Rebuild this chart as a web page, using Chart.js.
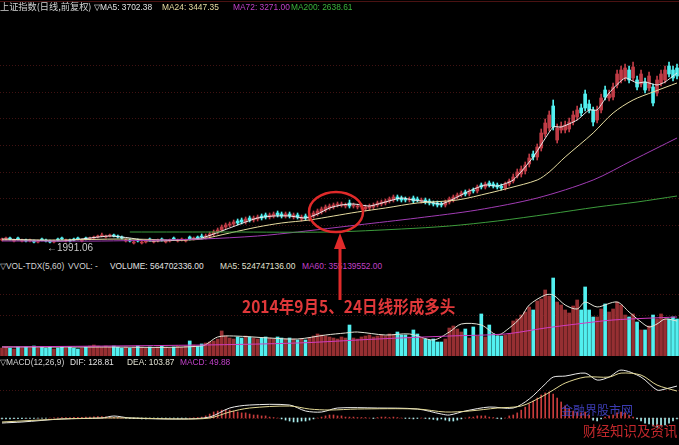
<!DOCTYPE html>
<html>
<head>
<meta charset="utf-8">
<script src="https://cdn.jsdelivr.net/npm/chart.js@4.4.1/dist/chart.umd.min.js"></script>
<style>
html, body { margin: 0; padding: 0; background: #000; width: 679px; height: 445px; overflow: hidden; }
.wrap { position: relative; width: 679px; height: 445px; background: #000; }
canvas { position: absolute; left: 0; }
.t { position: absolute; white-space: nowrap; font-family: "Liberation Sans", Arial, sans-serif; font-size: 8.4px; line-height: 10px; }
.cjk { font-family: "Noto Sans CJK SC", sans-serif; }
.rule { position: absolute; left: 0; width: 679px; height: 1px; background: #4a1212; }
svg { position: absolute; left: 0; top: 0; }
</style>
</head>
<body>
<div class="wrap">
  <div class="rule" style="top:1px"></div>
  <canvas id="priceChart" width="679" height="245" style="top:12px"></canvas>
  <canvas id="volChart" width="679" height="84" style="top:272px"></canvas>
  <canvas id="macdChart" width="679" height="78" style="top:366px"></canvas>

  <!-- panel headers -->
  <span class="t cjk" style="left:0;top:1px;font-size:9.2px;color:#d2d2d2">上证指数(日线,前复权)</span>
  <span class="t" style="left:94px;top:2px;color:#e2e2e2">▽MA5: 3702.38</span>
  <span class="t" style="left:162px;top:2px;color:#e6dca2">MA24: 3447.35</span>
  <span class="t" style="left:233px;top:2px;color:#c040c8">MA72: 3271.00</span>
  <span class="t" style="left:291px;top:2px;color:#3cb43c">MA200: 2638.61</span>

  <span class="t" style="left:0;top:261px;color:#d2d2d2">▽VOL-TDX(5,60)</span>
  <span class="t" style="left:68px;top:261px;color:#d2d2d2">VVOL: -</span>
  <span class="t" style="left:110px;top:261px;color:#e2e2e2">VOLUME: 564702336.00</span>
  <span class="t" style="left:220px;top:261px;color:#e2e2d2">MA5: 524747136.00</span>
  <span class="t" style="left:302px;top:261px;color:#c040c8">MA60: 355139552.00</span>

  <span class="t" style="left:0;top:357px;color:#d2d2d2">▽MACD(12,26,9)</span>
  <span class="t" style="left:70px;top:357px;color:#e2e2e2">DIF: 128.81</span>
  <span class="t" style="left:127px;top:357px;color:#e2e2d2">DEA: 103.87</span>
  <span class="t" style="left:180px;top:357px;color:#c040c8">MACD: 49.88</span>

  <span class="t" style="left:47px;top:243px;font-size:10px;color:#c8c8c8">←1991.06</span>

  <!-- annotation -->
  <svg width="679" height="445">
    <ellipse cx="336" cy="212" rx="27" ry="20" fill="none" stroke="#e02a2a" stroke-width="2.5"/>
    <rect x="338.5" y="246" width="3" height="54" fill="#e02a2a"/>
    <polygon points="340,233 334,249 346,249" fill="#e02a2a"/>
  </svg>
  <span class="t cjk" style="left:242px;top:296px;font-size:17px;line-height:20px;font-weight:bold;color:#e0383a;transform:scaleX(0.915);transform-origin:0 0">2014年9月5、24日线形成多头</span>

  <!-- watermarks -->
  <span class="t cjk" style="left:561px;top:403px;font-size:12px;line-height:14px;color:rgba(70,70,210,0.85)">金融界股市网</span>
  <span class="t cjk" style="left:583px;top:422px;font-size:13.5px;line-height:16px;color:#c4282c">财经知识及资讯</span>
</div>

<script>
// ---- candles (price), index 0..169 ----
const opens = [
  1900,1910,1920,1890,1920,1890,1900,1890,1890,1880,
  1910,1900,1890,1880,1910,1920,1890,1900,1910,1920,
  1890,1920,1910,1920,1930,1940,1930,1940,1950,1940,
  1930,1890,1900,1870,1900,1870,1880,1910,1880,1890,
  1910,1880,1890,1920,1890,1900,1890,1930,1910,1930,
  1940,1930,1940,1960,1980,2000,2030,2050,2060,2090,
  2100,2080,2120,2100,2110,2140,2150,2130,2140,2170,
  2160,2140,2160,2130,2150,2110,2140,2110,2140,2160,
  2180,2200,2220,2230,2250,2250,2240,2270,2240,2230,
  2230,2210,2220,2230,2250,2260,2270,2290,2300,2330,
  2320,2310,2300,2320,2310,2290,2300,2290,2270,2270,
  2260,2250,2280,2300,2330,2350,2380,2360,2400,2390,
  2450,2430,2470,2460,2450,2440,2420,2460,2490,2540,
  2560,2590,2660,2760,2730,2820,2960,3020,3240,2900,
  3000,3000,3010,3080,3130,3220,3360,3260,3200,3100,
  3200,3400,3320,3330,3450,3500,3520,3600,3520,3500,
  3460,3480,3420,3430,3370,3470,3500,3640,3600,3620
];
const closes = [
  1910,1920,1910,1900,1910,1900,1890,1900,1880,1890,
  1900,1890,1880,1890,1900,1910,1900,1890,1900,1910,
  1900,1910,1920,1930,1940,1950,1940,1950,1940,1930,
  1920,1900,1890,1880,1890,1880,1890,1900,1890,1900,
  1900,1890,1900,1910,1900,1910,1900,1910,1920,1920,
  1930,1940,1960,1980,2000,2030,2050,2060,2080,2070,
  2080,2110,2100,2120,2130,2120,2130,2150,2160,2150,
  2140,2160,2140,2150,2130,2130,2120,2140,2170,2190,
  2210,2230,2240,2250,2260,2260,2250,2240,2250,2240,
  2240,2230,2240,2250,2270,2280,2290,2310,2330,2310,
  2300,2300,2310,2290,2300,2300,2280,2270,2260,2250,
  2250,2280,2310,2330,2350,2370,2360,2390,2390,2430,
  2430,2460,2450,2440,2430,2420,2460,2490,2530,2580,
  2610,2650,2720,2730,2830,2970,3070,3150,3030,3020,
  3040,3050,3080,3150,3200,3170,3220,3200,3080,3200,
  3320,3330,3360,3430,3560,3600,3620,3500,3630,3430,
  3560,3400,3540,3270,3500,3560,3600,3560,3520,3540
];
const highs = [
  1920,1930,1930,1910,1930,1910,1910,1910,1900,1900,
  1920,1910,1900,1900,1920,1930,1910,1910,1920,1930,
  1910,1930,1930,1940,1950,1970,1950,1960,1960,1950,
  1940,1910,1910,1890,1910,1890,1900,1920,1900,1910,
  1920,1900,1910,1930,1910,1920,1910,1940,1930,1940,
  1960,1960,1980,2000,2020,2050,2070,2080,2100,2110,
  2120,2130,2140,2140,2150,2160,2170,2170,2180,2190,
  2180,2180,2180,2170,2170,2150,2160,2160,2190,2210,
  2230,2250,2260,2270,2280,2280,2270,2300,2270,2260,
  2260,2250,2260,2270,2290,2300,2310,2330,2350,2350,
  2340,2330,2330,2340,2330,2320,2320,2310,2290,2290,
  2280,2300,2330,2350,2370,2390,2400,2410,2420,2450,
  2470,2480,2490,2480,2470,2460,2480,2510,2560,2610,
  2640,2680,2760,2790,2860,3010,3110,3190,3300,3060,
  3080,3090,3120,3190,3240,3260,3400,3300,3230,3240,
  3360,3440,3400,3470,3600,3640,3660,3640,3680,3540,
  3600,3520,3580,3460,3540,3600,3640,3680,3640,3660
];
const lows = [
  1890,1900,1900,1880,1900,1880,1880,1880,1870,1870,
  1890,1880,1870,1870,1890,1900,1880,1880,1890,1900,
  1880,1900,1900,1910,1920,1930,1920,1930,1930,1920,
  1910,1880,1880,1860,1880,1860,1870,1890,1870,1880,
  1890,1870,1880,1900,1880,1890,1880,1900,1900,1910,
  1910,1910,1920,1940,1960,1980,2010,2030,2040,2050,
  2060,2060,2080,2080,2090,2100,2110,2110,2120,2130,
  2120,2120,2120,2110,2110,2090,2100,2090,2120,2140,
  2160,2180,2200,2210,2230,2230,2220,2220,2220,2210,
  2210,2190,2200,2210,2230,2240,2250,2270,2280,2290,
  2280,2280,2280,2270,2280,2270,2260,2250,2240,2230,
  2230,2230,2260,2280,2310,2330,2340,2340,2370,2370,
  2410,2410,2430,2420,2410,2400,2400,2440,2470,2520,
  2530,2560,2630,2700,2700,2790,2930,2990,3000,2870,
  2970,2970,2980,3050,3100,3140,3190,3170,3040,3070,
  3170,3300,3290,3300,3420,3470,3490,3470,3490,3400,
  3430,3370,3390,3240,3340,3440,3470,3530,3490,3510
];

// ---- moving averages on price (node index / value) ----
const ma5Idx = [0,7,15,22,27,32,37,45,50,53,57,61,64,68,72,76,79,82,85,88,92,96,100,103,107,110,113,117,121,124,128,133,138,140,144,147,149,152,156,159,161,164,166,169];
const ma5Val = [1910,1900,1890,1920,1940,1920,1890,1900,1920,1960,2020,2080,2120,2140,2140,2120,2160,2220,2250,2260,2240,2280,2320,2300,2280,2260,2310,2390,2450,2440,2500,2730,3030,3030,3100,3200,3200,3370,3520,3470,3480,3450,3480,3570];
const ma24Idx = [0,15,30,45,50,57,64,70,77,83,89,96,104,114,122,127,134,137,141,148,153,158,163,169];
const ma24Val = [1900,1900,1910,1900,1910,1970,2030,2070,2100,2140,2180,2220,2270,2300,2370,2420,2500,2580,2730,2970,3170,3300,3380,3470];
const ma72Idx = [0,25,50,64,74,89,104,119,134,148,158,169];
const ma72Val = [1890,1890,1910,1940,1980,2050,2120,2200,2320,2500,2700,2920];
const ma200Idx = [32,57,82,100,112,124,137,149,159,169];
const ma200Val = [1980,1980,1980,2010,2040,2090,2160,2230,2280,2340];
const priceGrid = [3650,3380,3120,2850,2580,2320,2050];

// ---- volume (x 1e7 shares) ----
const volume = [
  12.2,13.8,12.2,10.7,13.8,12.2,13.8,12.2,15.3,12.2,
  13.8,12.2,13.8,10.7,12.2,13.8,12.2,13.8,12.2,10.7,
  12.2,13.8,15.3,16.8,15.3,13.8,15.3,13.8,15.3,13.8,
  12.2,13.8,12.2,13.8,15.3,13.8,12.2,13.8,12.2,13.8,
  15.3,13.8,12.2,13.8,15.3,13.8,15.3,23.0,16.8,15.3,
  18.4,19.9,21.4,23.0,26.0,38.3,30.6,27.5,26.0,29.1,
  27.5,30.6,29.1,27.5,26.0,27.5,29.1,27.5,26.0,29.1,
  27.5,26.0,27.5,26.0,24.5,26.0,24.5,27.5,30.6,33.7,
  32.1,30.6,29.1,27.5,26.0,29.1,27.5,47.4,27.5,26.0,
  29.1,30.6,32.1,29.1,30.6,32.1,30.6,33.7,32.1,36.7,
  32.1,32.1,29.1,39.8,33.7,27.5,26.0,24.5,26.0,21.4,
  21.4,26.0,42.8,45.9,41.3,36.7,41.3,27.5,44.4,30.6,
  64.3,29.1,47.4,33.7,30.6,30.6,32.1,33.7,53.6,56.6,
  62.7,67.3,75.0,70.4,84.2,87.2,101.0,91.8,119.3,82.6,
  78.0,70.4,65.8,76.5,85.7,70.4,105.6,70.4,59.7,59.7,
  71.9,79.6,67.3,71.9,82.6,78.0,62.7,59.7,64.3,52.0,
  39.8,39.8,45.9,62.7,56.6,64.3,56.6,56.6,59.7,56.6
];
const volMa5Idx = [0,25,50,54,58,67,74,81,86,89,96,102,108,112,115,120,124,127,130,132,136,138,141,144,146,149,154,157,160,162,164,166,169];
const volMa5Val = [13.8,13.8,15.3,29.1,30.6,27.5,26.0,32.1,35.2,36.7,32.1,33.7,24.5,36.7,49.0,47.4,32.1,42.8,59.7,78.0,93.3,93.3,78.0,71.9,82.6,75.0,82.6,67.3,52.0,44.4,49.0,56.6,53.5];
const volMa60Idx = [0,50,74,94,112,126,136,144,153,169];
const volMa60Val = [13.8,16.8,19.9,26.0,30.6,33.7,42.8,49.0,55.1,59.7];
const volGrid = [94.9,62.7];

// ---- MACD ----
const macdHist = [
  -4,-4,-4,-3,-3,-3,-2,-2,-2,-1,
  -1,-1,0,1,1,2,2,2,3,3,
  3,4,4,5,6,6,5,4,3,2,
  1,-1,-2,-3,-3,-4,-4,-3,-3,-2,
  -2,-2,-1,-1,-2,-2,-1,0,1,2,
  4,9,17,26,30,34,34,34,30,26,
  22,22,17,13,13,9,9,4,2,0,
  -4,-9,-13,-17,-17,-13,-13,-9,-4,0,
  4,9,13,13,9,9,4,4,4,2,
  2,2,0,-2,2,4,4,2,4,2,
  0,-2,-2,-4,-2,0,-2,-4,-6,-9,
  -4,-9,-13,-13,-9,-4,0,4,4,9,
  9,9,4,2,-2,-4,0,9,13,22,
  34,47,60,73,86,99,108,112,103,86,
  69,52,39,30,26,22,26,13,-9,-13,
  -4,4,9,13,22,26,22,13,4,-4,
  -13,-22,-26,-34,-39,-34,-30,-22,-13,-4
];
const difIdx = [0,5,15,25,28,32,45,52,57,62,72,76,80,84,94,104,110,112,116,122,128,132,136,138,141,146,149,152,155,160,164,166,169];
const difVal = [-21.5,-17.2,-4.3,0,8.6,0,-4.3,4.3,43.0,55.9,55.9,30.1,25.8,43.0,43.0,38.7,17.2,12.9,30.1,47.3,43.0,81.7,146.2,176.3,180.6,193.5,163.4,176.3,206.4,176.3,120.4,124.7,137.6];
const deaIdx = [0,15,25,32,45,52,57,62,72,77,82,89,104,111,117,124,130,135,138,141,146,152,155,160,164,169];
const deaVal = [-17.2,-4.3,0,0,-4.3,0,25.8,43.0,51.6,38.7,34.4,38.7,38.7,25.8,30.1,43.0,51.6,90.3,120.4,150.5,176.3,176.3,193.5,184.9,141.9,116.1];
const macdGrid = [120,0];

// ---- helpers ----
const UP = '#c03c46', DOWN = '#52f0f0';
const isUp = opens.map((o, i) => closes[i] >= o);

const levelLines = {
    id: 'levelLines',
    beforeDatasetsDraw(chart, args, opts) {
        const { ctx, chartArea, scales } = chart;
        ctx.save();
        ctx.strokeStyle = opts.color;
        ctx.lineWidth = 1;
        ctx.setLineDash([1, 2]);
        (opts.levels || []).forEach(v => {
            const py = Math.round(scales.y.getPixelForValue(v)) + 0.5;
            ctx.beginPath();
            ctx.moveTo(chartArea.left, py);
            ctx.lineTo(chartArea.right, py);
            ctx.stroke();
        });
        ctx.restore();
    }
};

function baseOptions(yMin, yMax, levels) {
    return {
        responsive: false,
        animation: false,
        devicePixelRatio: 1,
        layout: { padding: 0 },
        plugins: {
            legend: { display: false },
            tooltip: { enabled: false },
            levelLines: { levels: levels, color: '#401212' }
        },
        scales: {
            x: { type: 'linear', min: -0.5, max: 169.5, offset: false, display: false },
            y: { min: yMin, max: yMax, display: false }
        }
    };
}

function lineSet(idx, vals, color, tension) {
    return {
        type: 'line',
        data: idx.map((x, k) => ({ x: x, y: vals[k] })),
        borderColor: color,
        borderWidth: 1,
        pointRadius: 0,
        tension: tension,
        order: 0
    };
}

// ---- price panel ----
new Chart(document.getElementById('priceChart'), {
    type: 'bar',
    data: {
        datasets: [
            {
                data: highs.map((h, i) => ({ x: i, y: [lows[i], h] })),
                backgroundColor: isUp.map(u => u ? UP : DOWN),
                barThickness: 1,
                grouped: false,
                minBarLength: 1,
                order: 2
            },
            {
                data: opens.map((o, i) => ({ x: i, y: [o, closes[i]] })),
                backgroundColor: isUp.map(u => u ? UP : DOWN),
                barThickness: 3,
                grouped: false,
                minBarLength: 1,
                order: 1
            },
            lineSet(ma200Idx, ma200Val, '#3c9c3c', 0.3),
            lineSet(ma72Idx, ma72Val, '#a13cb4', 0.3),
            lineSet(ma24Idx, ma24Val, '#e6dca0', 0.3),
            lineSet(ma5Idx, ma5Val, '#ececec', 0.2)
        ]
    },
    options: baseOptions(1730, 4180, priceGrid),
    plugins: [levelLines]
});

// ---- volume panel ----
new Chart(document.getElementById('volChart'), {
    type: 'bar',
    data: {
        datasets: [
            {
                data: volume.map((v, i) => ({ x: i, y: v })),
                backgroundColor: isUp.map(u => u ? '#962f32' : DOWN),
                barThickness: 3,
                grouped: false,
                order: 1
            },
            lineSet(volMa60Idx, volMa60Val, '#d03cc0', 0.3),
            lineSet(volMa5Idx, volMa5Val, '#e4e4d8', 0.3)
        ]
    },
    options: baseOptions(0, 128.5, volGrid),
    plugins: [levelLines]
});

// ---- MACD panel ----
new Chart(document.getElementById('macdChart'), {
    type: 'bar',
    data: {
        datasets: [
            {
                data: macdHist.map((v, i) => ({ x: i, y: v })),
                backgroundColor: macdHist.map(v => v >= 0 ? '#c83c3c' : '#a8ecec'),
                barThickness: 1,
                grouped: false,
                order: 1
            },
            lineSet(deaIdx, deaVal, '#e2d894', 0.3),
            lineSet(difIdx, difVal, '#ececec', 0.3)
        ]
    },
    options: baseOptions(-112, 224, macdGrid),
    plugins: [levelLines]
});
</script>
</body>
</html>
